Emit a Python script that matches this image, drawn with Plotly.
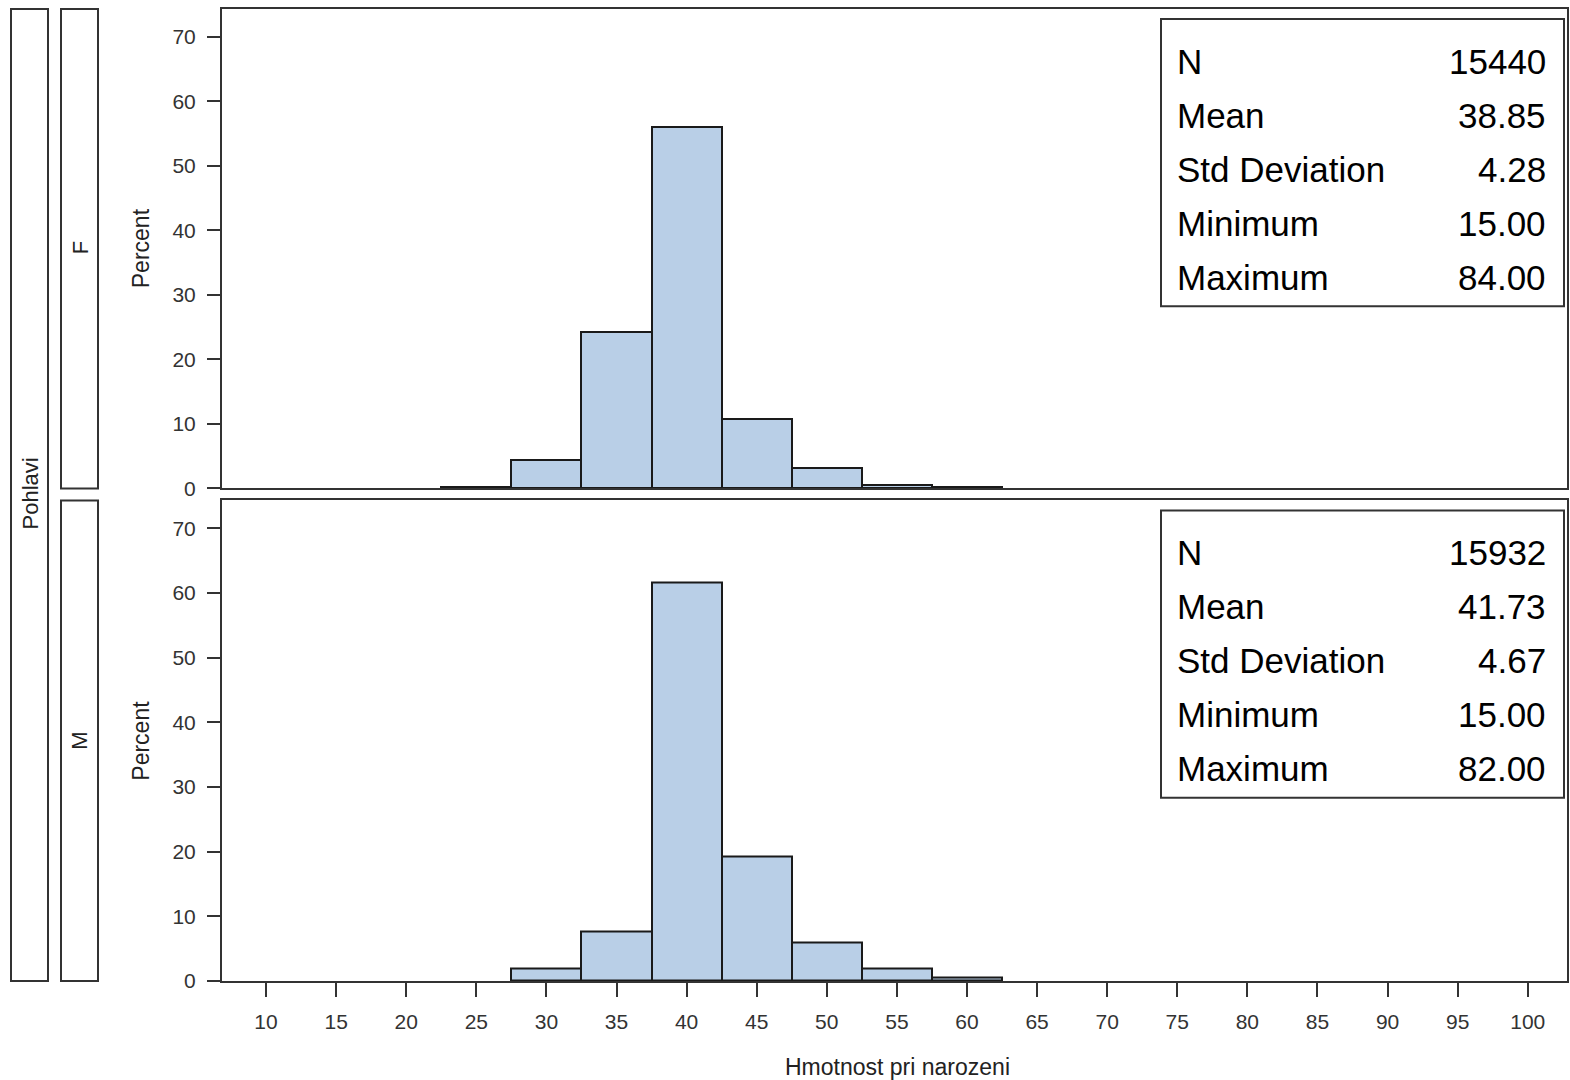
import plotly.graph_objects as go

# ---- data ----
bin_centers_f = [25, 30, 35, 40, 45, 50, 55, 60]
percent_f = [0.3, 4.35, 24.2, 56.0, 10.7, 3.1, 0.6, 0.3]
bin_centers_m = [30, 35, 40, 45, 50, 55, 60]
percent_m = [2.0, 7.7, 61.6, 19.2, 5.9, 1.85, 0.6]
bin_width = 5

stat_labels = ["N", "Mean", "Std Deviation", "Minimum", "Maximum"]
stats_f = ["15440", "38.85", "4.28", "15.00", "84.00"]
stats_m = ["15932", "41.73", "4.67", "15.00", "82.00"]

groups = ["F", "M"]
panel_title = "Pohlavi"
x_title = "Hmotnost pri narozeni"
y_title = "Percent"
x_ticks = [10, 15, 20, 25, 30, 35, 40, 45, 50, 55, 60, 65, 70, 75, 80, 85, 90, 95, 100]
y_ticks = [0, 10, 20, 30, 40, 50, 60, 70]

# ---- layout helpers ----
W, H = 1570, 1080
def px(x):
    return x / W
def py(y):
    return 1 - y / H

FONT = "Liberation Sans, Arial, sans-serif"
LINE = "#333333"
FILL = "#B9CFE7"

fig = go.Figure()
fig.add_trace(go.Bar(x=bin_centers_f, y=percent_f, width=bin_width,
                     marker=dict(color=FILL, line=dict(color="#1a1a1a", width=2)),
                     xaxis="x", yaxis="y", showlegend=False))
fig.add_trace(go.Bar(x=bin_centers_m, y=percent_m, width=bin_width,
                     marker=dict(color=FILL, line=dict(color="#1a1a1a", width=2)),
                     xaxis="x2", yaxis="y2", showlegend=False))

xr = [6.86, 102.8]
yr = [0, 74.3]
xdom = [px(222), px(1567)]

common_y = dict(range=yr, tickvals=y_ticks, ticks="outside", ticklen=13, tickwidth=1.5,
                tickcolor=LINE, showline=True, linecolor=LINE, linewidth=2, mirror=True,
                showgrid=False, zeroline=False, fixedrange=True, ticklabelstandoff=7,
                tickfont=dict(family=FONT, size=21, color="#333333"))

fig.update_layout(
    width=W, height=1092,
    margin=dict(l=0, r=0, t=0, b=0),
    paper_bgcolor="white", plot_bgcolor="white",
    bargap=0,
    xaxis=dict(domain=xdom, range=xr, anchor="y", showticklabels=False, ticks="",
               showline=True, linecolor=LINE, linewidth=2, mirror=True,
               showgrid=False, zeroline=False),
    yaxis=dict(domain=[py(488), py(9)], anchor="x", **common_y),
    xaxis2=dict(domain=xdom, range=xr, anchor="y2", tickvals=x_ticks, ticks="outside",
                ticklen=14, tickwidth=1.5, tickcolor=LINE, ticklabelstandoff=7,
                showline=True, linecolor=LINE, linewidth=2, mirror=True,
                showgrid=False, zeroline=False,
                tickfont=dict(family=FONT, size=21, color="#333333")),
    yaxis2=dict(domain=[py(980), py(500)], anchor="x2", **common_y),
)

shapes = []
annotations = []

def ann(text, x, y, size, xanchor="center", angle=0, color="#222222"):
    annotations.append(dict(text=text, x=px(x), y=py(y), xref="paper", yref="paper",
                            xanchor=xanchor, yanchor="middle", showarrow=False,
                            textangle=angle,
                            font=dict(family=FONT, size=size, color=color)))

# strip boxes
for (x0, y0, x1, y1) in [(11, 9, 48, 980), (61, 9, 98, 488), (61, 500, 98, 980)]:
    shapes.append(dict(type="rect", xref="paper", yref="paper",
                       x0=px(x0), x1=px(x1), y0=py(y1), y1=py(y0),
                       line=dict(color=LINE, width=2), fillcolor="rgba(0,0,0,0)"))
ann(panel_title, 30, 493, 22, angle=-90)
ann(groups[0], 80, 248, 22, angle=-90)
ann(groups[1], 80, 740, 22, angle=-90)

# y titles
for yc in [248, 740]:
    ann(y_title, 141, yc, 23, angle=-90)
# x title
ann(x_title, 897, 1066, 23)

# stats insets
for top, vals in [(0, stats_f), (491, stats_m)]:
    shapes.append(dict(type="rect", xref="paper", yref="paper",
                       x0=px(1161), x1=px(1564), y0=py(306 + top), y1=py(19 + top),
                       line=dict(color=LINE, width=2), fillcolor="white"))
    for i, (lab, val) in enumerate(zip(stat_labels, vals)):
        yc = 61 + 54 * i + top
        ann(lab, 1175, yc, 35, xanchor="left", color="#000000")
        ann(val, 1548, yc, 35, xanchor="right", color="#000000")

fig.update_layout(shapes=shapes, annotations=annotations)
fig.write_html(
    "out.html",
    config={"displayModeBar": False},
    post_script=(
        "document.body.style.margin='0px';"
        "document.body.style.padding='0px';"
        "document.body.style.overflow='hidden';"
        "document.documentElement.style.overflow='hidden';"
    ),
)
